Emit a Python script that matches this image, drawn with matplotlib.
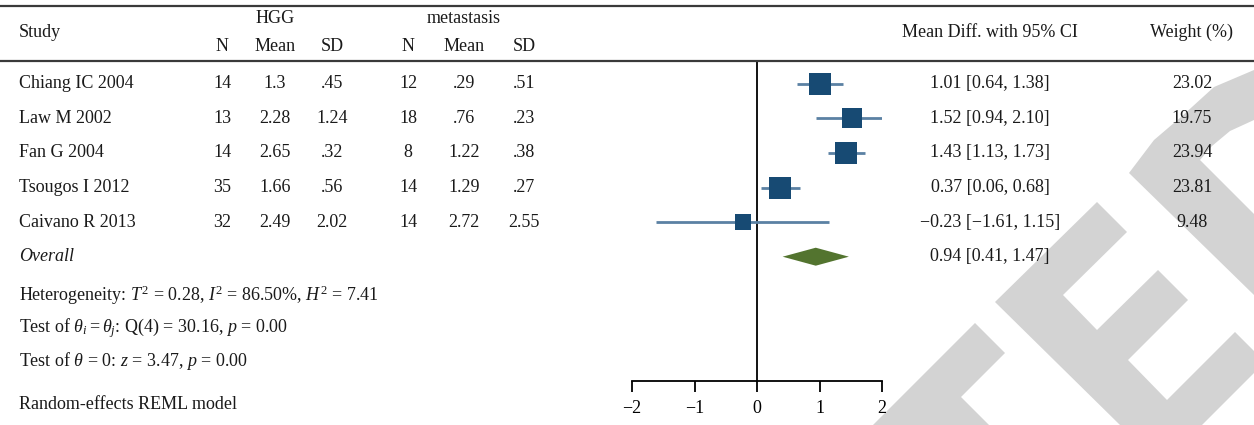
import matplotlib.pyplot as plt
import numpy as np
from matplotlib import transforms
from matplotlib.lines import Line2D
from matplotlib.patches import Polygon

plt.rcParams['font.family'] = ['Liberation Serif', 'DejaVu Serif']
plt.rcParams['mathtext.fontset'] = 'custom'
plt.rcParams['mathtext.rm'] = 'Liberation Serif'
plt.rcParams['mathtext.it'] = 'Liberation Serif:italic'
plt.rcParams['mathtext.bf'] = 'Liberation Serif:bold'

# study table
studies = ['Chiang IC 2004', 'Law M 2002', 'Fan G 2004', 'Tsougos I 2012', 'Caivano R 2013']
hgg_n = ['14', '13', '14', '35', '32']
hgg_mean = ['1.3', '2.28', '2.65', '1.66', '2.49']
hgg_sd = ['.45', '1.24', '.32', '.56', '2.02']
met_n = ['12', '18', '8', '14', '14']
met_mean = ['.29', '.76', '1.22', '1.29', '2.72']
met_sd = ['.51', '.23', '.38', '.27', '2.55']

# mean difference, 95% CI and weights
md = [1.01, 1.52, 1.43, 0.37, -0.23]
ci_lo = [0.64, 0.94, 1.13, 0.06, -1.61]
ci_hi = [1.38, 2.10, 1.73, 0.68, 1.15]
weights = [23.02, 19.75, 23.94, 23.81, 9.48]
overall = [0.94, 0.41, 1.47]
xticks = [-2, -1, 0, 1, 2]

W, H = 1254, 425
fig = plt.figure(figsize=(W / 100, H / 100), dpi=100)

# forest panel: x from -2 to 2, rows are integer positions (0 = first study)
row0, dy = 83.7, 34.6          # pixel row of first study, row spacing
def rows(px):
    return (px - row0) / dy

ax = fig.add_axes([632 / W, 0, 250 / W, 1])
ax.set_xlim(-2, 2)
ax.set_ylim(rows(H), rows(0))
ax.patch.set_visible(False)
for s in ['top', 'right', 'left']:
    ax.spines[s].set_visible(False)
ax.spines['bottom'].set_position(('data', rows(381)))
ax.spines['bottom'].set_bounds(-2, 2)
ax.spines['bottom'].set_linewidth(1.3)
ax.set_yticks([])
ax.set_xticks(xticks)
ax.tick_params(axis='x', direction='out', length=8, width=1.3, pad=6, labelsize=13)
ax.plot([0, 0], [rows(61), rows(381)], color='black', lw=1.3)

ypos = np.arange(len(studies))
ax.hlines(ypos, ci_lo, ci_hi, color='#5b81a3', lw=2, zorder=2)
for y, m, w in zip(ypos, md, weights):
    ms = 16 * (w / max(weights)) ** 0.35
    ax.plot(m, y, 's', ms=ms, color='#174a73', mew=0, zorder=3)

oy = len(studies)
om, olo, ohi = overall
ax.fill([olo, om, ohi, om], [oy, oy - 0.26, oy, oy + 0.26], color='#53742f', lw=0, zorder=3)

# text columns: x in figure pixels, y in row units
tr = transforms.blended_transform_factory(fig.transFigure, ax.transData)
fs = 13
def put(xpx, y, s, ha='center', **kw):
    fig.text(xpx / W, y, s, transform=tr, ha=ha, va='center', fontsize=fs,
             color='#1a1a1a', **kw)

# header
for ypx in [6, 61]:
    fig.add_artist(Line2D([0, 1], [rows(ypx)] * 2, transform=tr, color='#3a3a3a', lw=1.6))
put(19, rows(32), 'Study', ha='left')
put(275, rows(18), 'HGG')
put(464, rows(18), 'metastasis')
for xpx, lab in zip([222, 275, 332, 408, 464, 524], ['N', 'Mean', 'SD', 'N', 'Mean', 'SD']):
    put(xpx, rows(46), lab)
put(990, rows(32), 'Mean Diff. with 95% CI')
put(1192, rows(32), 'Weight (%)')

def fmt(v):
    return f'{v:.2f}'.replace('-', '\u2212')

for i, name in enumerate(studies):
    put(19, i, name, ha='left')
    for xpx, col in zip([222, 275, 332, 408, 464, 524],
                        [hgg_n, hgg_mean, hgg_sd, met_n, met_mean, met_sd]):
        put(xpx, i, col[i])
    put(990, i, f'{fmt(md[i])} [{fmt(ci_lo[i])}, {fmt(ci_hi[i])}]')
    put(1192, i, f'{weights[i]:.2f}')

put(19, oy, 'Overall', ha='left', style='italic')
put(990, oy, f'{fmt(om)} [{fmt(olo)}, {fmt(ohi)}]')

put(19, rows(295), r'Heterogeneity: $T^2$ = 0.28, $I^2$ = 86.50%, $H^2$ = 7.41', ha='left')
put(19, rows(328), r'Test of $\theta_i = \theta_j$: Q(4) = 30.16, $p$ = 0.00', ha='left')
put(19, rows(361), r'Test of $\theta$ = 0: $z$ = 3.47, $p$ = 0.00', ha='left')
put(19, rows(404), 'Random-effects REML model', ha='left')

# grey logo shapes in the background
logo = [
    [(1254, 70), (1214, 87), (1181, 117), (1154, 140), (1129, 173), (1254, 295),
     (1254, 214), (1200, 160), (1212, 146), (1230, 131), (1254, 120)],
    [(995, 302), (1097, 202), (1127, 232), (1063, 295), (1097, 330), (1158, 270),
     (1188, 300), (1128, 360), (1167, 400), (1235, 332), (1265, 362), (1202, 425),
     (1120, 425)],
    [(873, 425), (975, 323), (1005, 353), (961, 397), (989, 425)],
]
for shape in logo:
    pts = [(x / W, 1 - y / H) for x, y in shape]
    fig.add_artist(Polygon(pts, closed=True, transform=fig.transFigure,
                           color='#d3d3d3', lw=0, zorder=-1))

fig.savefig('out.png', dpi=100)
